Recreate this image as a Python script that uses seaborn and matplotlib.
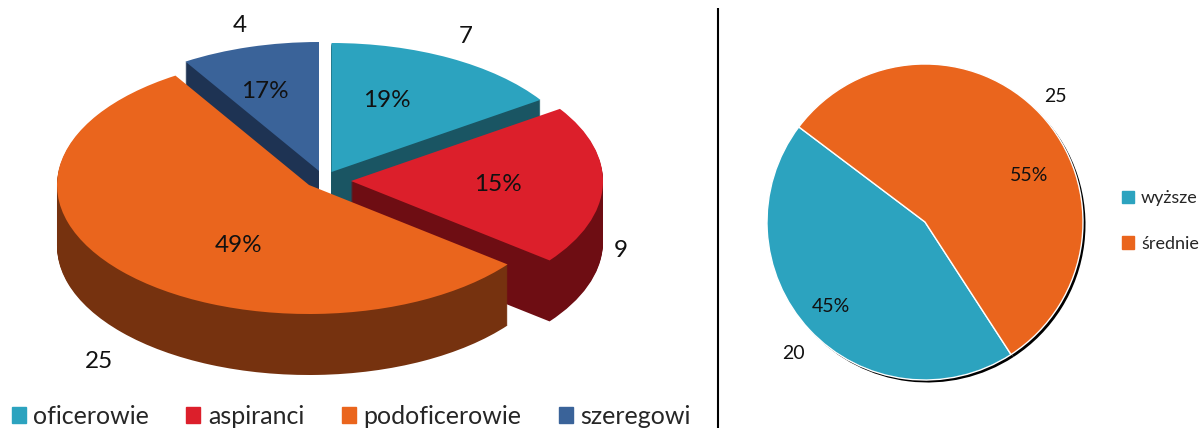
import matplotlib
matplotlib.use("Agg")
import matplotlib.pyplot as plt
import seaborn as sns

# ---- data ----
ranks = ["oficerowie", "aspiranci", "podoficerowie", "szeregowi"]
rank_counts = [7, 9, 25, 4]
rank_percent_labels = ["19%", "15%", "49%", "17%"]
education = ["wyższe", "średnie"]
education_counts = [20, 25]
education_percent_labels = ["45%", "55%"]

rank_colors = ["#2CA3BF", "#DC1F2B", "#EA651D", "#3A6399"]
rank_side_colors = ["#1A5563", "#6E0D13", "#76320F", "#1E3353"]
edu_colors = ["#2CA3BF", "#EA651D"]

W, H = 1204, 428
sns.set_theme(style="white", rc={"font.family": ["Lato", "DejaVu Sans"]})
fig = plt.figure(figsize=(W / 100, H / 100), dpi=100, facecolor="white")

# ---- left: pseudo-3D pie, one unit = (RX, RY) pixels ----
RX, RY, DEPTH = 252, 129, 61
ax = fig.add_axes([0, 0, 1, 1])
ax.patch.set_alpha(0)

slice_apex = {0: (331.5, 172), 1: (351, 181), 2: (309, 185), 3: (319, 171)}
draw_order = [3, 0, 1, 2]


def draw_slice(i, px, py, color, z):
    wedges, _ = ax.pie(rank_counts, colors=[color] * 4, startangle=90, counterclock=False,
                       center=(px / RX, (H - py) / RY), radius=1, normalize=True,
                       wedgeprops={"linewidth": 0})
    for j, w in enumerate(wedges):
        if j == i:
            w.set_zorder(z)
        else:
            w.remove()


z = 1
for i in draw_order:
    ax_px, ax_py = slice_apex[i]
    for d in range(DEPTH, 0, -1):
        draw_slice(i, ax_px, ax_py + d, rank_side_colors[i], z)
        z += 1
    draw_slice(i, ax_px, ax_py, rank_colors[i], z)
    z += 1
ax.set_aspect("auto")
ax.set_xlim(0, W / RX)
ax.set_ylim(0, H / RY)
ax.axis("off")

# ---- right: flat pie in pixel units ----
ax2 = fig.add_axes([0, 0, 1, 1])
ax2.patch.set_alpha(0)
R2, CX2, CY2 = 158, 925, 222
ax2.pie(education_counts, colors=["black", "black"], startangle=143, center=(CX2 + 2.5, H - CY2 - 2.5),
        radius=R2, wedgeprops={"linewidth": 0})
wedges2, _ = ax2.pie(education_counts, colors=edu_colors, startangle=143, center=(CX2, H - CY2),
                     radius=R2, wedgeprops={"linewidth": 1, "edgecolor": "white"})
ax2.set_aspect("auto")
ax2.set_xlim(0, W)
ax2.set_ylim(0, H)
ax2.axis("off")

# divider
ax2.plot([718, 718], [0, H - 8], color="black", lw=1.5, solid_capstyle="butt", clip_on=False)


def label(x, y, s, size):
    ax2.text(x, H - y - 1.5, s, ha="center", va="center", fontsize=size, color="#111111", zorder=500)


FS_L, FS_R = 17.5, 14
for (x, y), n in zip([(466, 35), (621, 249), (99, 360), (240, 24)], rank_counts):
    label(x, y, str(n), FS_L)
for (x, y), p in zip([(387, 99), (498, 183), (239, 244), (265, 90)], rank_percent_labels):
    label(x, y, p, FS_L)
for (x, y), n in zip([(793, 352), (1055, 95)], education_counts):
    label(x, y, str(n), FS_R)
for (x, y), p in zip([(831, 305), (1029, 174)], education_percent_labels):
    label(x, y, p, FS_R)

# legends
left_handles = [plt.Rectangle((0, 0), 1, 1, color=c) for c in rank_colors]
leg = ax2.legend(left_handles, ranks, ncols=4, frameon=False, fontsize=18,
                 loc="center left", bbox_to_anchor=(11.5 / W, 11.5 / H),
                 handlelength=0.56, handleheight=0.6, handletextpad=0.32,
                 columnspacing=1.48, borderpad=0, borderaxespad=0)
ax2.add_artist(leg)
right_handles = [plt.Rectangle((0, 0), 1, 1, color=c) for c in edu_colors]
ax2.legend(right_handles, education, ncols=1, frameon=False, fontsize=13,
           loc="center left", bbox_to_anchor=(1122 / W, (H - 221) / H),
           handlelength=0.66, handleheight=0.66, handletextpad=0.39,
           labelspacing=1.65, borderpad=0, borderaxespad=0)

fig.savefig("out.png", dpi=100)
